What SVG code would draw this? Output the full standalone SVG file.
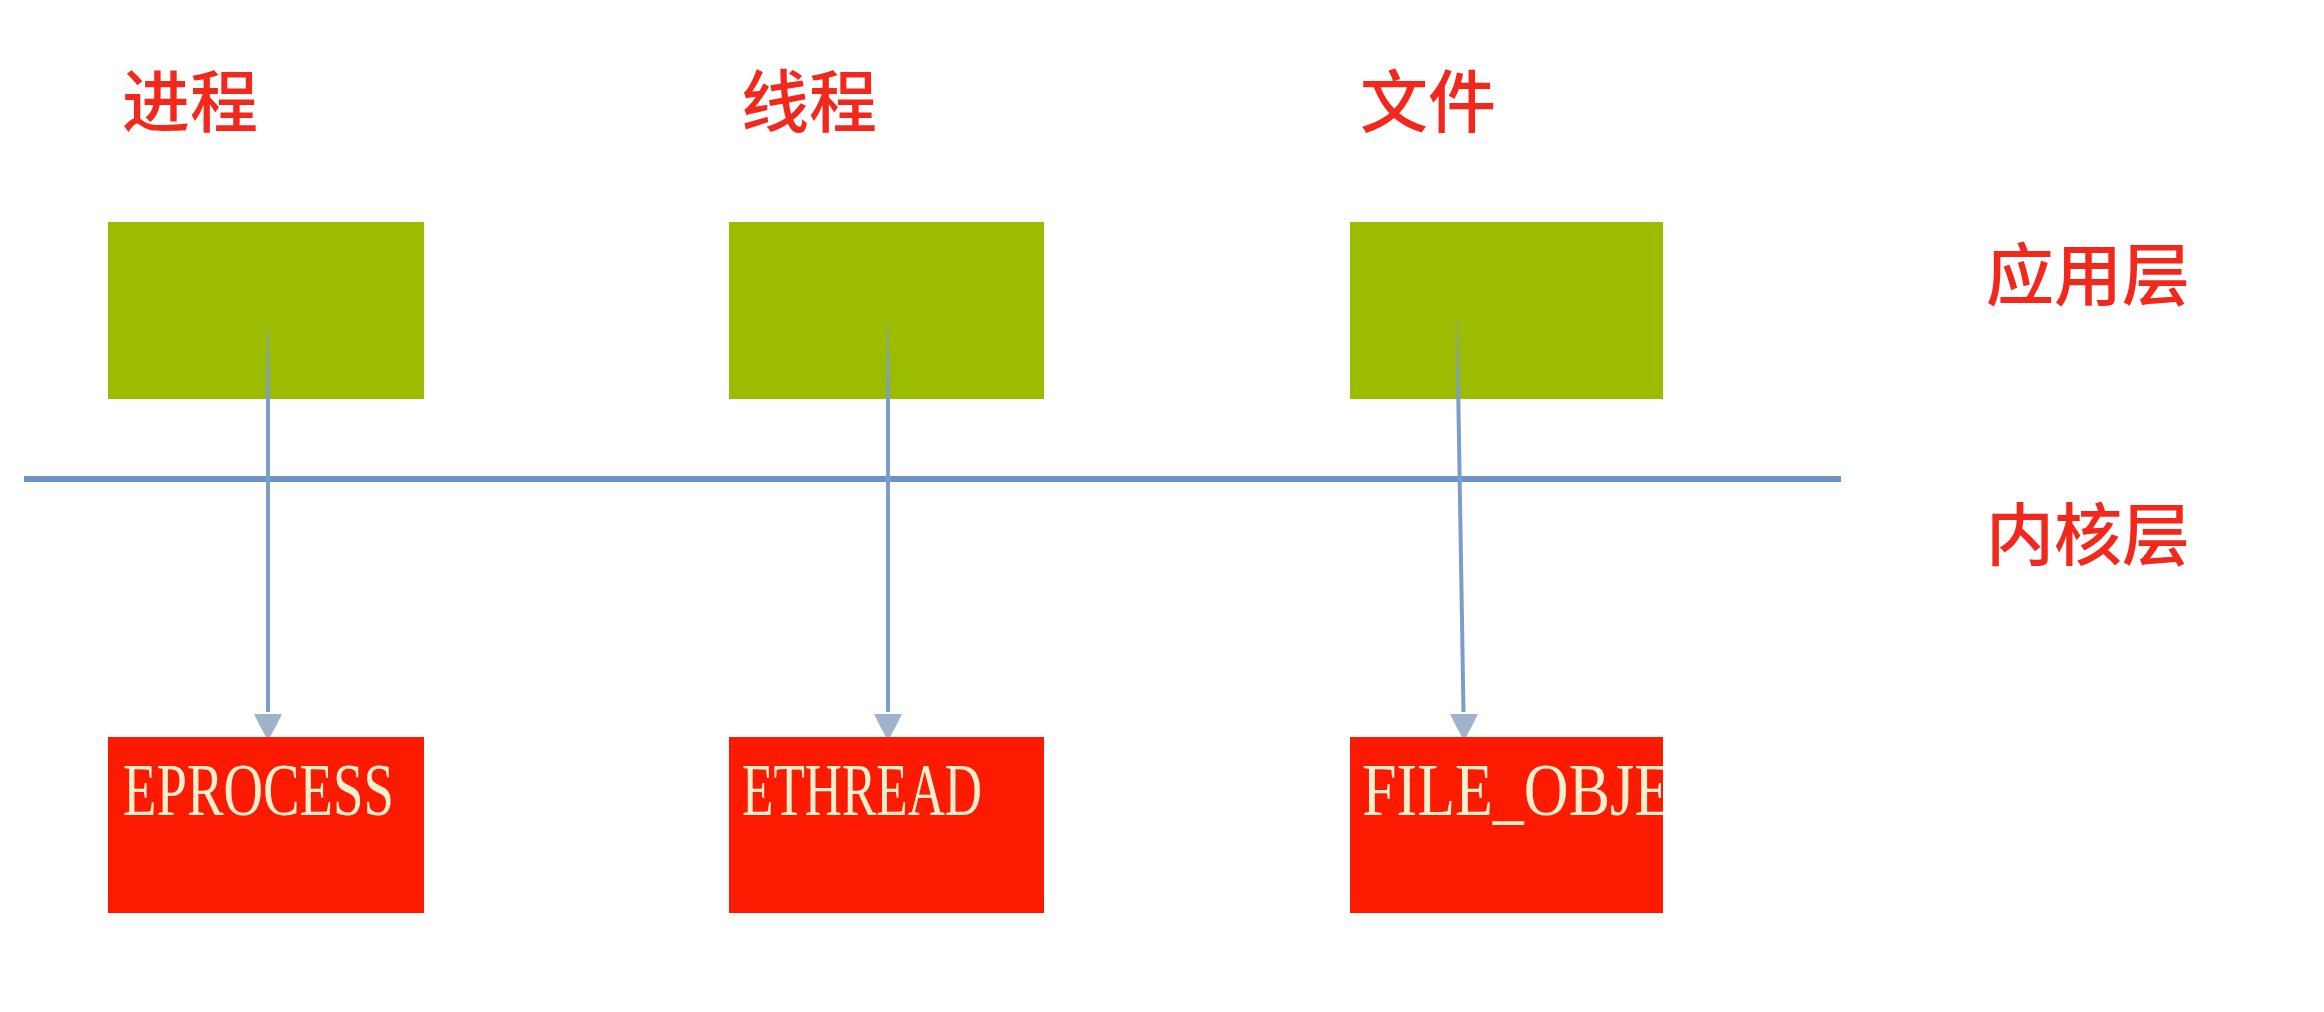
<svg xmlns="http://www.w3.org/2000/svg" width="2324" height="1012" viewBox="0 0 2324 1012">
<style>
.lbl{font-family:"Noto Sans CJK SC","Noto Sans",sans-serif;font-size:68px;font-weight:500;fill:#f2281c}
.app{fill:#9cbc02}
.ker{fill:#fc1a00}
.kt{font-family:"Liberation Serif","DejaVu Serif",serif;font-size:74px;fill:#f8efcf}
.conn{stroke:url(#fade);stroke-width:4;fill:none}
.head{fill:#9fb2cb}
</style>
<defs>
<linearGradient id="fade" gradientUnits="userSpaceOnUse" x1="0" y1="320" x2="0" y2="402">
<stop offset="0" stop-color="#7b9dca" stop-opacity="0.15"/>
<stop offset="1" stop-color="#7b9dca" stop-opacity="1"/>
</linearGradient>
<clipPath id="clip3"><rect x="1350" y="737" width="313" height="176"/></clipPath>
</defs>
<rect width="2324" height="1012" fill="#ffffff"/>
<g id="labels">
<text class="lbl" x="122" y="127">进程</text>
<text class="lbl" x="741" y="127">线程</text>
<text class="lbl" x="1360" y="127">文件</text>
<text class="lbl" x="1986" y="300">应用层</text>
<text class="lbl" x="1986" y="560">内核层</text>
</g>
<g id="node-process"><rect class="app" x="108" y="222" width="316" height="177"/></g>
<g id="node-thread"><rect class="app" x="729" y="222" width="315" height="177"/></g>
<g id="node-file"><rect class="app" x="1350" y="222" width="313" height="177"/></g>
<g id="node-eprocess"><rect class="ker" x="108" y="737" width="316" height="176"/>
<text class="kt" x="123" y="815" textLength="271" lengthAdjust="spacingAndGlyphs">EPROCESS</text></g>
<g id="node-ethread"><rect class="ker" x="729" y="737" width="315" height="176"/>
<text class="kt" x="742" y="815" textLength="240" lengthAdjust="spacingAndGlyphs">ETHREAD</text></g>
<g id="node-fileobj"><rect class="ker" x="1350" y="737" width="313" height="176"/>
<text class="kt" x="1362" y="815" textLength="310" lengthAdjust="spacingAndGlyphs" clip-path="url(#clip3)">FILE_OBJE</text></g>
<g id="connectors">
<line x1="24" y1="479" x2="1841" y2="479" stroke="#6d93c6" stroke-width="6"/>
<path class="conn" d="M268,330 L268,712"/>
<path class="conn" d="M888,322 L888,712"/>
<path class="conn" d="M1457,318 L1463.5,712"/>
<polygon class="head" points="254,714 282,714 276,726 270,737 266,737 260,726"/>
<polygon class="head" points="874,714 902,714 896,726 890,737 886,737 880,726"/>
<polygon class="head" points="1450,714 1478,714 1472,726 1466,737 1462,737 1456,726"/>
</g>
</svg>
